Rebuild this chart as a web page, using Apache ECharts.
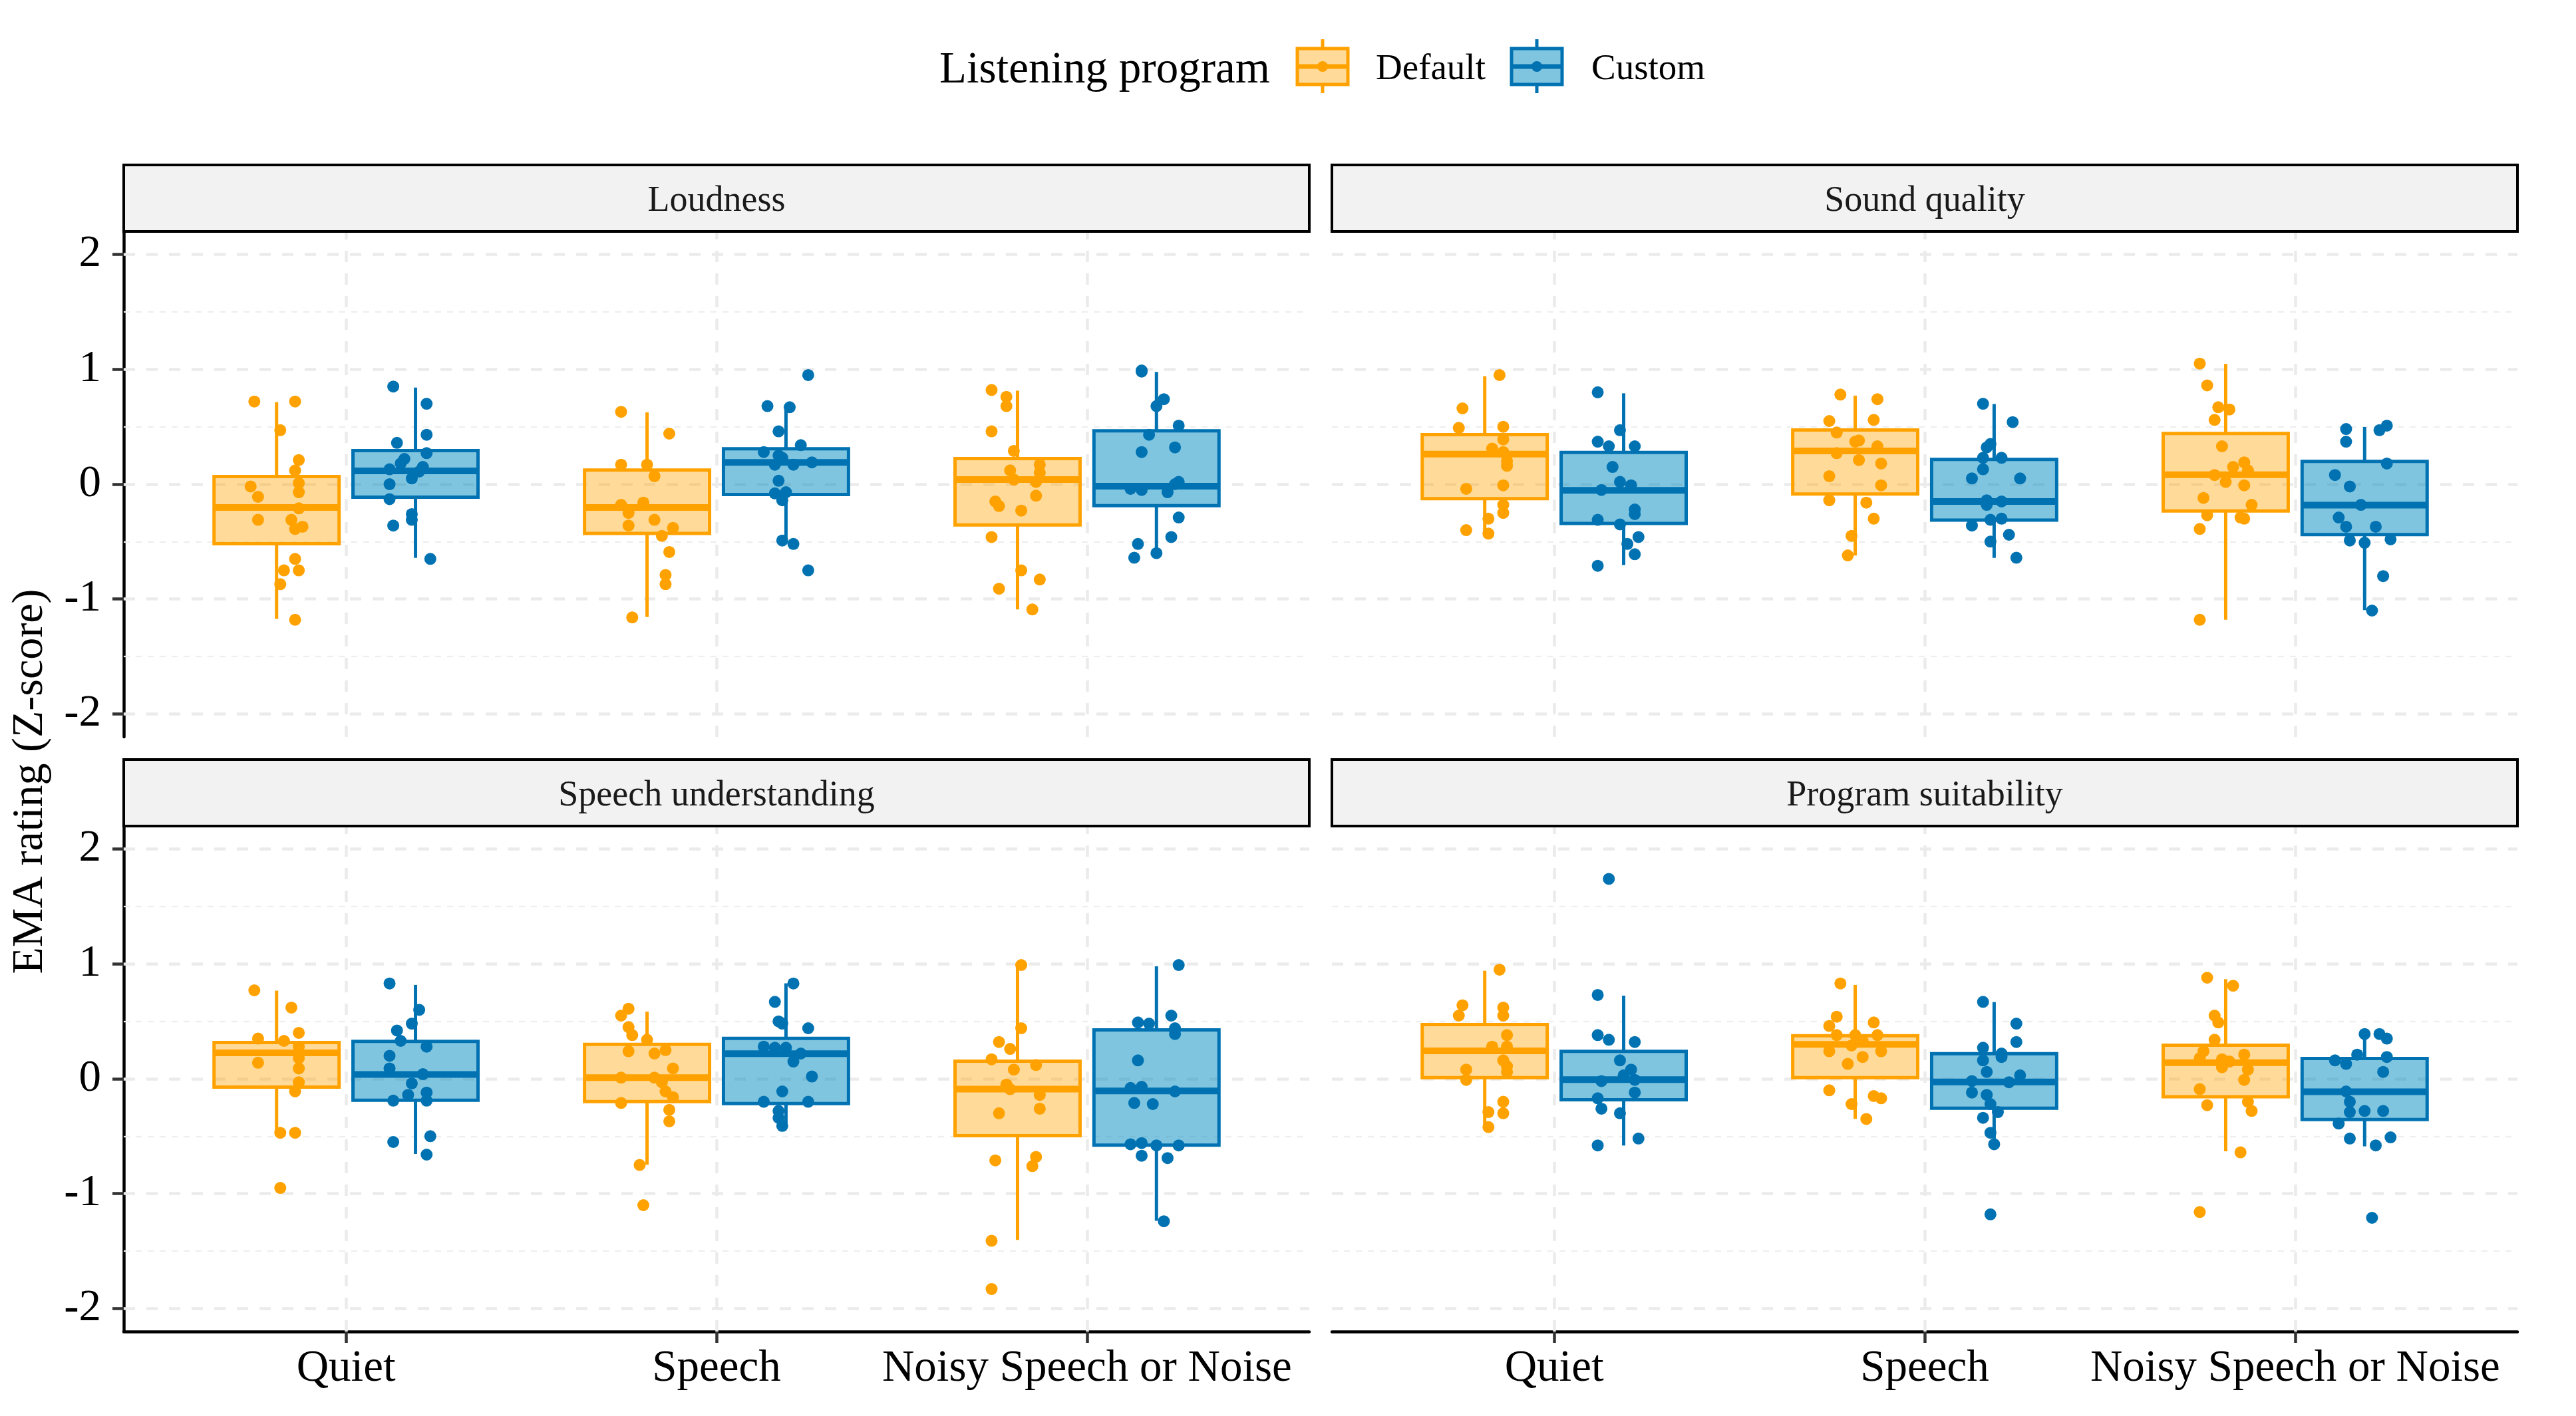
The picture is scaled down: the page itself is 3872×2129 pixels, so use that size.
<!DOCTYPE html>
<html>
<head>
<meta charset="utf-8">
<script src="https://cdn.jsdelivr.net/npm/echarts@6/dist/echarts.min.js"></script>
<style>
html,body{margin:0;padding:0;background:#ffffff;}
#chart{width:3872px;height:2129px;}
</style>
</head>
<body>
<div id="chart"></div>
<script>
// ---------------- DATA ----------------
const categories = ['Quiet', 'Speech', 'Noisy Speech or Noise'];
const panelTitles = ['Loudness', 'Sound quality', 'Speech understanding', 'Program suitability'];
const programs = ['Default', 'Custom'];
const legendTitle = 'Listening program';
const yAxisTitle = 'EMA rating (Z-score)';
const yTicks = [-2, -1, 0, 1, 2];
const yMinorTicks = [-1.5, -0.5, 0.5, 1.5];

// Box statistics per category: [lower whisker, Q1, median, Q3, upper whisker]
const loudnessDefaultBox = [[-1.173, -0.518, -0.203, 0.066, 0.714], [-1.156, -0.429, -0.203, 0.123, 0.625], [-1.090, -0.355, 0.040, 0.223, 0.814]];
const loudnessCustomBox  = [[-0.641, -0.113, 0.116, 0.292, 0.841], [-0.515, -0.090, 0.189, 0.309, 0.681], [-0.631, -0.186, -0.017, 0.465, 0.977]];
const soundDefaultBox    = [[-0.449, -0.126, 0.262, 0.432, 0.940], [-0.621, -0.086, 0.289, 0.472, 0.771], [-1.179, -0.233, 0.083, 0.442, 1.047]];
const soundCustomBox     = [[-0.704, -0.342, -0.053, 0.276, 0.791], [-0.641, -0.312, -0.150, 0.216, 0.698], [-1.096, -0.439, -0.183, 0.199, 0.498]];
const speechDefaultBox   = [[-0.472, -0.073, 0.226, 0.316, 0.767], [-0.748, -0.199, 0.010, 0.299, 0.585], [-1.402, -0.495, -0.090, 0.153, 0.973]];
const speechCustomBox    = [[-0.654, -0.186, 0.037, 0.326, 0.817], [-0.422, -0.216, 0.219, 0.352, 0.831], [-1.236, -0.578, -0.106, 0.425, 0.980]];
const suitDefaultBox     = [[-0.422, 0.010, 0.243, 0.472, 0.940], [-0.349, 0.010, 0.299, 0.375, 0.817], [-0.631, -0.156, 0.140, 0.292, 0.867]];
const suitCustomBox      = [[-0.581, -0.183, -0.007, 0.239, 0.724], [-0.588, -0.256, -0.027, 0.219, 0.668], [-0.588, -0.355, -0.113, 0.176, 0.409]];

// Individual ratings per category: [horizontal jitter (category units), value]
const loudnessDefaultPts = [
  [[-0.06,0.72],[0.05,0.72],[0.01,0.47],[0.06,0.21],[0.05,0.12],[-0.07,-0.02],[-0.05,-0.11],[0.06,0.01],[0.06,-0.07],[0.06,-0.21],[-0.05,-0.31],[0.04,-0.31],[0.05,-0.39],[0.07,-0.37],[0.05,-0.65],[0.02,-0.75],[0.06,-0.75],[0.01,-0.87],[0.05,-1.18]],
  [[-0.07,0.63],[0.06,0.44],[-0.07,0.17],[0.00,0.17],[0.02,0.07],[-0.07,-0.18],[-0.01,-0.16],[-0.05,-0.25],[0.02,-0.31],[-0.05,-0.36],[0.07,-0.38],[0.04,-0.45],[0.06,-0.59],[0.05,-0.79],[0.05,-0.87],[-0.04,-1.16]],
  [[-0.07,0.82],[-0.03,0.76],[-0.03,0.68],[-0.07,0.46],[-0.01,0.29],[0.06,0.17],[-0.02,0.12],[0.06,0.10],[-0.01,0.04],[0.05,0.02],[0.05,-0.10],[-0.06,-0.15],[-0.05,-0.19],[0.01,-0.23],[-0.07,-0.46],[0.01,-0.75],[0.06,-0.83],[-0.05,-0.91],[0.04,-1.09]]
];
const loudnessCustomPts = [
  [[-0.06,0.85],[0.03,0.70],[0.03,0.43],[-0.05,0.36],[0.03,0.27],[-0.03,0.22],[-0.04,0.18],[0.02,0.15],[-0.07,0.13],[0.01,0.11],[-0.01,0.05],[-0.07,0.00],[-0.07,-0.13],[-0.01,-0.26],[-0.01,-0.31],[-0.06,-0.36],[0.04,-0.65]],
  [[0.06,0.95],[-0.05,0.68],[0.01,0.67],[-0.02,0.46],[0.04,0.34],[-0.06,0.28],[-0.02,0.25],[-0.01,0.23],[0.02,0.17],[0.07,0.19],[-0.03,0.17],[-0.02,0.03],[-0.03,-0.08],[0.00,-0.07],[-0.01,-0.14],[-0.01,-0.49],[0.02,-0.52],[0.06,-0.75]],
  [[-0.04,0.99],[-0.04,0.98],[0.02,0.74],[0.00,0.68],[0.06,0.51],[-0.02,0.43],[0.05,0.32],[-0.04,0.28],[0.06,0.02],[-0.07,-0.04],[-0.04,-0.05],[0.03,-0.07],[0.05,0.00],[0.06,-0.29],[0.04,-0.46],[-0.05,-0.52],[0.00,-0.60],[-0.06,-0.64]]
];
const soundDefaultPts = [
  [[0.04,0.95],[-0.06,0.66],[-0.07,0.49],[0.05,0.50],[0.05,0.39],[0.02,0.31],[0.05,0.28],[0.06,0.20],[0.06,0.16],[0.05,-0.01],[-0.05,-0.04],[0.05,-0.18],[0.05,-0.25],[0.01,-0.30],[-0.05,-0.40],[0.01,-0.43]],
  [[-0.04,0.78],[0.06,0.74],[-0.07,0.55],[0.05,0.56],[-0.05,0.45],[0.01,0.38],[0.00,0.37],[0.06,0.33],[-0.05,0.27],[0.01,0.21],[0.07,0.18],[-0.07,0.07],[0.07,-0.01],[-0.07,-0.14],[0.03,-0.16],[0.05,-0.30],[-0.01,-0.45],[-0.02,-0.62]],
  [[-0.07,1.05],[-0.05,0.86],[-0.02,0.67],[0.01,0.65],[-0.03,0.56],[-0.01,0.33],[0.05,0.19],[0.02,0.15],[0.06,0.12],[-0.03,0.08],[0.00,0.02],[0.05,-0.01],[-0.06,-0.12],[0.07,-0.18],[-0.05,-0.27],[0.04,-0.29],[0.05,-0.30],[-0.07,-0.39],[-0.07,-1.18]]
];
const soundCustomPts = [
  [[-0.07,0.80],[-0.01,0.47],[-0.07,0.37],[-0.04,0.33],[0.03,0.33],[-0.03,0.15],[-0.01,0.02],[0.02,-0.01],[-0.06,-0.05],[0.03,-0.22],[0.03,-0.26],[-0.07,-0.31],[-0.01,-0.35],[0.04,-0.46],[0.01,-0.52],[0.03,-0.61],[-0.07,-0.71]],
  [[-0.03,0.70],[0.05,0.54],[-0.01,0.35],[-0.02,0.32],[0.02,0.23],[-0.03,0.23],[-0.03,0.13],[-0.06,0.05],[0.07,0.05],[-0.02,-0.14],[0.02,-0.15],[-0.02,-0.18],[0.02,-0.30],[-0.01,-0.31],[-0.06,-0.36],[0.04,-0.44],[-0.01,-0.50],[0.06,-0.64]],
  [[-0.05,0.48],[0.04,0.47],[0.06,0.51],[-0.05,0.37],[0.06,0.18],[-0.08,0.08],[-0.04,-0.02],[-0.01,-0.18],[-0.07,-0.29],[-0.05,-0.37],[0.03,-0.37],[-0.04,-0.49],[0.00,-0.51],[0.07,-0.48],[0.05,-0.80],[0.02,-1.10]]
];
const speechDefaultPts = [
  [[-0.06,0.77],[0.04,0.62],[0.06,0.40],[-0.05,0.35],[0.02,0.33],[0.06,0.28],[0.06,0.18],[-0.05,0.14],[0.06,0.09],[0.06,-0.03],[0.05,-0.11],[0.01,-0.47],[0.05,-0.47],[0.01,-0.95]],
  [[-0.05,0.61],[-0.07,0.55],[-0.05,0.45],[-0.04,0.38],[0.00,0.34],[0.05,0.25],[-0.05,0.24],[0.02,0.22],[0.07,0.09],[-0.07,0.01],[0.02,0.01],[0.04,-0.03],[0.05,-0.11],[0.07,-0.16],[-0.07,-0.21],[0.06,-0.27],[0.06,-0.37],[-0.02,-0.75],[-0.01,-1.10]],
  [[0.01,0.99],[0.01,0.44],[-0.05,0.32],[-0.02,0.26],[-0.07,0.17],[0.05,0.12],[-0.01,0.08],[-0.03,-0.05],[-0.02,-0.09],[0.06,-0.14],[0.06,-0.26],[-0.05,-0.30],[0.05,-0.68],[-0.06,-0.71],[0.04,-0.76],[-0.07,-1.41],[-0.07,-1.83]]
];
const speechCustomPts = [
  [[-0.07,0.83],[0.01,0.60],[-0.01,0.48],[-0.05,0.42],[-0.04,0.33],[0.03,0.28],[-0.07,0.20],[-0.07,0.09],[0.02,0.04],[-0.01,-0.04],[0.03,-0.12],[-0.02,-0.14],[0.03,-0.19],[-0.06,-0.19],[0.04,-0.50],[-0.06,-0.55],[0.03,-0.66]],
  [[0.02,0.83],[-0.03,0.67],[-0.02,0.50],[-0.01,0.48],[0.06,0.44],[-0.06,0.28],[-0.03,0.27],[0.00,0.27],[0.04,0.22],[0.02,0.15],[0.07,0.02],[-0.01,-0.11],[-0.06,-0.20],[0.06,-0.20],[-0.02,-0.28],[-0.02,-0.34],[-0.01,-0.41]],
  [[0.06,0.99],[0.04,0.55],[-0.05,0.49],[-0.02,0.48],[0.05,0.44],[0.05,0.39],[-0.05,0.16],[-0.07,-0.08],[-0.04,-0.07],[0.05,-0.11],[-0.06,-0.21],[-0.01,-0.22],[-0.07,-0.57],[-0.04,-0.56],[0.00,-0.58],[0.06,-0.58],[-0.04,-0.67],[0.03,-0.69],[0.02,-1.24]]
];
const suitDefaultPts = [
  [[0.04,0.95],[-0.06,0.64],[0.05,0.62],[-0.07,0.55],[0.05,0.55],[0.06,0.38],[0.02,0.28],[0.06,0.28],[0.05,0.16],[0.06,0.11],[-0.05,0.08],[0.06,0.06],[-0.05,-0.01],[0.05,-0.20],[0.01,-0.29],[0.05,-0.30],[0.01,-0.42]],
  [[-0.04,0.83],[-0.05,0.54],[0.05,0.49],[-0.07,0.46],[-0.05,0.38],[0.00,0.38],[0.06,0.38],[0.02,0.33],[-0.07,0.24],[0.07,0.24],[-0.01,0.29],[0.02,0.19],[-0.02,0.13],[-0.07,-0.10],[0.05,-0.15],[0.07,-0.17],[-0.01,-0.22],[0.03,-0.35]],
  [[-0.05,0.88],[0.02,0.81],[-0.03,0.55],[-0.02,0.49],[-0.03,0.34],[-0.06,0.24],[0.05,0.21],[-0.07,0.18],[-0.01,0.17],[0.01,0.15],[-0.01,0.10],[0.06,0.08],[0.05,-0.01],[-0.07,-0.09],[0.06,-0.20],[-0.05,-0.23],[0.07,-0.28],[0.04,-0.64],[-0.07,-1.16]]
];
const suitCustomPts = [
  [[-0.04,1.74],[-0.07,0.73],[-0.07,0.38],[-0.04,0.34],[0.03,0.32],[-0.01,0.16],[0.02,0.08],[0.00,0.03],[-0.06,-0.02],[0.03,-0.01],[0.03,-0.12],[-0.07,-0.17],[-0.06,-0.26],[-0.01,-0.30],[0.04,-0.52],[-0.07,-0.58]],
  [[-0.03,0.67],[0.06,0.48],[0.06,0.32],[-0.03,0.27],[0.02,0.22],[0.02,0.19],[-0.03,0.16],[-0.02,0.06],[0.07,0.03],[-0.06,-0.02],[0.04,-0.03],[-0.06,-0.12],[-0.02,-0.14],[-0.01,-0.22],[0.01,-0.29],[-0.03,-0.34],[-0.01,-0.47],[0.00,-0.57],[-0.01,-1.18]],
  [[0.00,0.39],[0.04,0.39],[0.06,0.35],[-0.02,0.21],[0.06,0.19],[-0.08,0.16],[-0.05,0.13],[0.05,0.06],[-0.05,-0.11],[-0.04,-0.20],[-0.04,-0.29],[0.00,-0.28],[0.05,-0.28],[-0.07,-0.39],[-0.04,-0.52],[0.07,-0.51],[0.03,-0.58],[0.02,-1.21]]
];

const panelBoxes = [
  [loudnessDefaultBox, loudnessCustomBox],
  [soundDefaultBox, soundCustomBox],
  [speechDefaultBox, speechCustomBox],
  [suitDefaultBox, suitCustomBox]
];
const panelPoints = [
  [loudnessDefaultPts, loudnessCustomPts],
  [soundDefaultPts, soundCustomPts],
  [speechDefaultPts, speechCustomPts],
  [suitDefaultPts, suitCustomPts]
];

// ---------------- STYLE / LAYOUT ----------------
const FONT = "'Liberation Serif', 'Times New Roman', 'DejaVu Serif', serif";
const STROKE = ['#FFA200', '#0072B2'];
const FILL = ['rgba(255,163,0,0.40)', 'rgba(0,139,193,0.50)'];
const DODGE = [-0.1875, 0.1875];
const BOX_W = 0.3375;
const GRID_W = 1782, GRID_H = 760;
const gridPos = [
  {left: 186, top: 348}, {left: 2002, top: 348},
  {left: 186, top: 1242}, {left: 2002, top: 1242}
];
const STRIP_H = 100;
const TEXT_DY = 5;

const chart = echarts.init(document.getElementById('chart'), null, {renderer: 'canvas', width: 3872, height: 2129});

const grids = gridPos.map(g => ({left: g.left, top: g.top, width: GRID_W, height: GRID_H, containLabel: false}));

const xAxes = gridPos.map((g, i) => {
  const bottom = i >= 2;
  return {
    type: 'value', gridIndex: i, min: 0.4, max: 3.6,
    splitLine: {show: false},
    axisLine: {show: bottom, onZero: false, lineStyle: {color: '#000', width: 4.5}},
    axisTick: {show: bottom, customValues: [1, 2, 3], length: 17, lineStyle: {color: '#333', width: 4.5}},
    axisLabel: {
      show: bottom, customValues: [1, 2, 3], margin: 23,
      formatter: v => categories[Math.round(v) - 1] || '',
      fontFamily: FONT, fontSize: 67, color: '#000'
    }
  };
});
const yAxes = gridPos.map((g, i) => {
  const left = i % 2 === 0;
  return {
    type: 'value', gridIndex: i, min: -2.2, max: 2.2,
    splitLine: {show: false},
    axisLine: {show: left, onZero: false, lineStyle: {color: '#000', width: 4.5}},
    axisTick: {show: left, customValues: yTicks, length: 17, lineStyle: {color: '#333', width: 4.5}},
    axisLabel: {
      show: left, customValues: yTicks, margin: 34,
      formatter: v => String(v),
      padding: [10, 0, 0, 0],
      fontFamily: FONT, fontSize: 67, color: '#000'
    }
  };
});

const series = [];
gridPos.forEach((g, gi) => {
  // gridlines
  const ml = [];
  yTicks.forEach(v => ml.push({yAxis: v, lineStyle: {color: '#EBEBEB', width: 4.5, type: [17, 17]}}));
  yMinorTicks.forEach(v => ml.push({yAxis: v, lineStyle: {color: '#EEEEEE', width: 2.3, type: [9, 9]}}));
  [1, 2, 3].forEach(v => ml.push({xAxis: v, lineStyle: {color: '#EBEBEB', width: 4.5, type: [17, 17]}}));
  series.push({
    type: 'scatter', xAxisIndex: gi, yAxisIndex: gi, data: [], z: 1, silent: true,
    markLine: {z: 1, silent: true, symbol: ['none', 'none'], label: {show: false}, animation: false, data: ml}
  });

  programs.forEach((prog, pi) => {
    const boxData = panelBoxes[gi][pi].map((b, ci) => [ci + 1 + DODGE[pi], b[0], b[1], b[2], b[3], b[4]]);
    series.push({
      type: 'custom', name: prog, xAxisIndex: gi, yAxisIndex: gi, z: 6, silent: true,
      encode: {x: 0, y: [1, 2, 3, 4, 5]},
      data: boxData,
      renderItem: (params, api) => {
        const x = api.value(0);
        const w = api.size([BOX_W, 0])[0];
        const pUw = api.coord([x, api.value(5)]);
        const pQ3 = api.coord([x, api.value(4)]);
        const pMed = api.coord([x, api.value(3)]);
        const pQ1 = api.coord([x, api.value(2)]);
        const pLw = api.coord([x, api.value(1)]);
        const cx = pMed[0];
        return {
          type: 'group',
          children: [
            {type: 'line', shape: {x1: cx, y1: pQ3[1], x2: cx, y2: pUw[1]}, style: {stroke: STROKE[pi], lineWidth: 5}},
            {type: 'line', shape: {x1: cx, y1: pQ1[1], x2: cx, y2: pLw[1]}, style: {stroke: STROKE[pi], lineWidth: 5}},
            {type: 'rect', shape: {x: cx - w / 2, y: pQ3[1], width: w, height: pQ1[1] - pQ3[1]},
             style: {fill: FILL[pi], stroke: STROKE[pi], lineWidth: 5, lineJoin: 'miter'}},
            {type: 'line', shape: {x1: cx - w / 2, y1: pMed[1], x2: cx + w / 2, y2: pMed[1]},
             style: {stroke: STROKE[pi], lineWidth: 10, lineCap: 'butt'}}
          ]
        };
      }
    });
  });
  programs.forEach((prog, pi) => {
    const pts = [];
    panelPoints[gi][pi].forEach((arr, ci) => {
      arr.forEach(p => pts.push([ci + 1 + DODGE[pi] + p[0], p[1]]));
    });
    series.push({
      type: 'scatter', name: prog + ' points', xAxisIndex: gi, yAxisIndex: gi, z: 7, silent: true,
      symbol: 'circle', symbolSize: 18,
      itemStyle: {color: STROKE[pi], opacity: 1},
      data: pts
    });
  });
});

// strips, legend and y title as graphic elements
const graphic = [];
gridPos.forEach((g, gi) => {
  graphic.push({
    type: 'rect', z: 10,
    shape: {x: g.left, y: g.top - STRIP_H, width: GRID_W, height: STRIP_H},
    style: {fill: '#F2F2F2', stroke: '#000', lineWidth: 4}
  });
  graphic.push({
    type: 'text', z: 11, x: g.left + GRID_W / 2, y: g.top - STRIP_H / 2 + TEXT_DY,
    style: {text: panelTitles[gi], fontFamily: FONT, fontSize: 54, fill: '#1a1a1a',
            align: 'center', verticalAlign: 'middle', textAlign: 'center', textVerticalAlign: 'middle'}
  });
});
graphic.push({
  type: 'text', z: 11, x: 46, y: 1175, rotation: Math.PI / 2,
  style: {text: yAxisTitle, fontFamily: FONT, fontSize: 66, fill: '#000',
          align: 'center', verticalAlign: 'middle', textAlign: 'center', textVerticalAlign: 'middle'}
});
graphic.push({
  type: 'text', z: 11, x: 1412, y: 101 + TEXT_DY,
  style: {text: legendTitle, fontFamily: FONT, fontSize: 67, fill: '#000',
          align: 'left', verticalAlign: 'middle', textAlign: 'left', textVerticalAlign: 'middle'}
});
const legendKeys = [{x: 1950, tx: 2068}, {x: 2272, tx: 2392}];
programs.forEach((prog, pi) => {
  const k = legendKeys[pi];
  const cx = k.x + 38;
  graphic.push({type: 'line', z: 11, shape: {x1: cx, y1: 59, x2: cx, y2: 140}, style: {stroke: STROKE[pi], lineWidth: 5}});
  graphic.push({type: 'rect', z: 12, shape: {x: k.x, y: 73, width: 76, height: 54}, style: {fill: '#ffffff', stroke: 'none'}});
  graphic.push({type: 'rect', z: 13, shape: {x: k.x, y: 73, width: 76, height: 54}, style: {fill: FILL[pi], stroke: STROKE[pi], lineWidth: 5}});
  graphic.push({type: 'line', z: 14, shape: {x1: k.x, y1: 100, x2: k.x + 76, y2: 100}, style: {stroke: STROKE[pi], lineWidth: 7}});
  graphic.push({type: 'circle', z: 15, shape: {cx: cx, cy: 100, r: 8}, style: {fill: STROKE[pi]}});
  graphic.push({
    type: 'text', z: 11, x: k.tx, y: 100 + TEXT_DY,
    style: {text: prog, fontFamily: FONT, fontSize: 55, fill: '#000',
            align: 'left', verticalAlign: 'middle', textAlign: 'left', textVerticalAlign: 'middle'}
  });
});

chart.setOption({
  animation: false,
  backgroundColor: '#ffffff',
  grid: grids,
  xAxis: xAxes,
  yAxis: yAxes,
  series: series,
  graphic: graphic
});
</script>
</body>
</html>
